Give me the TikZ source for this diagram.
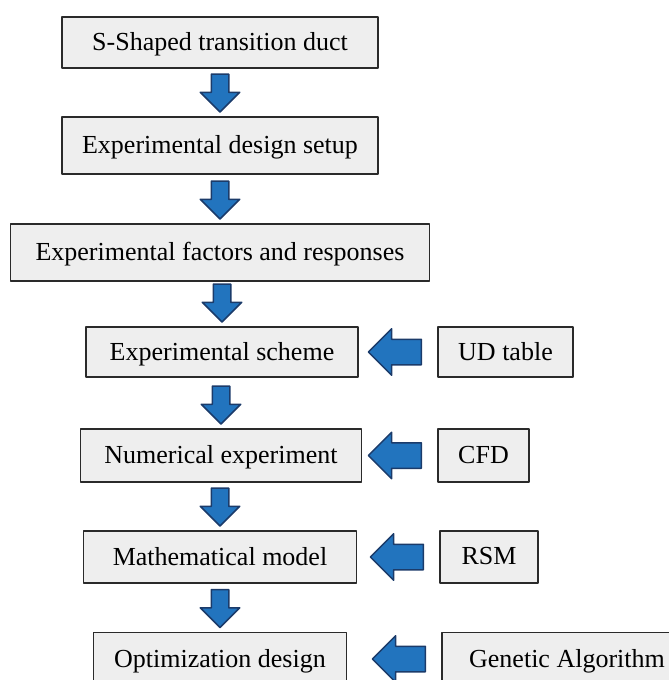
\documentclass[tikz,border=0pt]{standalone}
\usepackage{fontspec}
\setmainfont{Liberation Serif}
\usetikzlibrary{shapes.arrows}

\definecolor{boxgray}{HTML}{EEEEEE}
\definecolor{boxline}{HTML}{2A2A2A}
\definecolor{arrblue}{HTML}{2274BE}
\definecolor{arrnavy}{HTML}{1B3B6A}

\begin{document}
\begin{tikzpicture}[x=1pt,y=-1pt,line join=round,
    font=\fontsize{26}{30}\selectfont,
    stepbox/.style={draw=boxline,fill=boxgray,line width=1.8pt,inner sep=0pt,
      minimum height=53pt,text depth=2pt},
    downarr/.style={single arrow,draw=arrnavy,fill=arrblue,line width=1.5pt,
      inner sep=8pt,minimum width=38pt,minimum height=38pt,
      single arrow head extend=11pt,single arrow tip angle=90,
      shape border rotate=270},
    leftarr/.style={single arrow,draw=arrnavy,fill=arrblue,line width=1.5pt,
      inner sep=12pt,minimum width=45pt,minimum height=53pt,
      single arrow head extend=10.5pt,single arrow tip angle=90,
      shape border rotate=180}]

  % ---- fixed frame of the picture ------------------------------------------
  \useasboundingbox (0,0) rectangle (669,680);
  \begin{scope}
  \clip (0,0) rectangle (669,680);

  % ---- main chain ----------------------------------------------------------
  \node[stepbox,minimum width=316pt,minimum height=51pt] (duct)   at (220,42.5) {S-Shaped transition duct};
  \node[stepbox,minimum width=316pt,minimum height=57pt] (setup)  at (220,145.5) {Experimental design setup};
  \node[stepbox,minimum width=419pt,minimum height=57pt] (factor) at (220,252.5) {Experimental factors and responses};
  \node[stepbox,minimum width=272pt,minimum height=50pt] (scheme) at (222,352) {Experimental scheme};
  \node[stepbox,minimum width=281pt] (numexp) at (221,455.5) {Numerical experiment};
  \node[stepbox,minimum width=273pt,minimum height=52pt] (model)  at (220,557) {Mathematical model};
  \node[stepbox,minimum width=253pt] (optim)  at (220,659) {Optimization design};

  % ---- tools on the right --------------------------------------------------
  \node[stepbox,minimum width=135pt,minimum height=50pt] (udtab) at (505.5,352) {UD table};
  \node[stepbox,minimum width=91pt] (cfd)   at (483.5,455.5) {CFD};
  \node[stepbox,minimum width=98pt,minimum height=52pt] (rsm)   at (489,557) {RSM};
  \node[stepbox,minimum width=250pt] (genalg) at (567,659) {Genetic Algorithm};

  % ---- block arrows down the chain -----------------------------------------
  \foreach \a/\b in {duct/setup, setup/factor, factor/scheme, scheme/numexp, numexp/model, model/optim}{
    \path (\a.south) -- (\b.north) node[pos=1,downarr,anchor=tip,yshift=3pt] {};
  }

  % ---- block arrows from the tools -----------------------------------------
  \foreach \a/\b in {udtab/scheme, cfd/numexp, rsm/model, genalg/optim}{
    \path (\a.west) -- (\b.east) node[pos=0,leftarr,anchor=tail,xshift=-15pt] {};
  }

  \end{scope}

\end{tikzpicture}
\end{document}
